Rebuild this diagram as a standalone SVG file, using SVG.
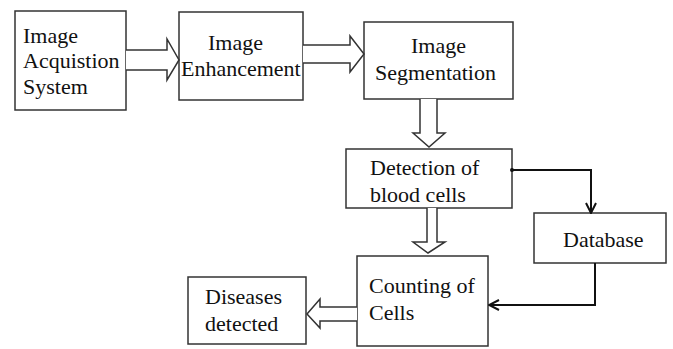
<svg xmlns="http://www.w3.org/2000/svg" width="673" height="349" viewBox="0 0 673 349">
<style>
.box{fill:#fff;stroke:#333;stroke-width:1.5}
.t{font-family:"Liberation Serif","Times New Roman",serif;font-size:22px;fill:#111}
.hol{fill:#fff;stroke:#333;stroke-width:1.5;stroke-linejoin:miter}
.con{fill:none;stroke:#111;stroke-width:2}
</style>
<defs>
<marker id="v" viewBox="0 0 12 12" refX="11" refY="6" markerWidth="12" markerHeight="12" markerUnits="userSpaceOnUse" orient="auto">
<path d="M1,1 L11,6 L1,11" fill="none" stroke="#111" stroke-width="2"/>
</marker>
</defs>
<rect width="673" height="349" fill="#fff"/>
<g id="n1"><rect class="box" x="15" y="11" width="111" height="99"/>
<text class="t" x="23" y="43">Image</text><text class="t" x="23" y="68">Acquistion</text><text class="t" x="23" y="94">System</text></g>
<g id="n2"><rect class="box" x="179" y="12" width="124" height="88"/>
<text class="t" x="208" y="50">Image</text><text class="t" x="181" y="76">Enhancement</text></g>
<g id="n3"><rect class="box" x="364" y="22" width="149" height="77"/>
<text class="t" x="411" y="53">Image</text><text class="t" x="375" y="80">Segmentation</text></g>
<g id="n4"><rect class="box" x="346" y="149" width="166" height="59"/>
<text class="t" x="370" y="175">Detection of</text><text class="t" x="370" y="202">blood cells</text></g>
<g id="n5"><rect class="box" x="534" y="213" width="132" height="50"/>
<text class="t" x="563" y="247">Database</text></g>
<g id="n6"><rect class="box" x="357" y="256" width="131" height="90"/>
<text class="t" x="369" y="293">Counting of</text><text class="t" x="369" y="320">Cells</text></g>
<g id="n7"><rect class="box" x="188" y="277" width="118" height="67"/>
<text class="t" x="205" y="304">Diseases</text><text class="t" x="205" y="331">detected</text></g>
<g id="connectors">
<path class="hol" d="M126,50 H167 V39 L179,60 L167,80 V70 H126"/>
<path class="hol" d="M303,45 H350 V36 L364,54 L350,72 V63 H303"/>
<path class="hol" d="M420,99 V133 H413 L429,147 L445,133 H437 V99"/>
<path class="hol" d="M427,208 V242 H413 L428,253 L445,242 H437 V208"/>
<path class="hol" d="M357,307 H320 V299 L307,314 L320,328 V321 H357"/>
<circle cx="512" cy="170" r="2" fill="#111"/>
<path class="con" d="M512,170 H591 V213" marker-end="url(#v)"/>
<path class="con" d="M595,263 V305 H489" marker-end="url(#v)"/>
</g>
</svg>
